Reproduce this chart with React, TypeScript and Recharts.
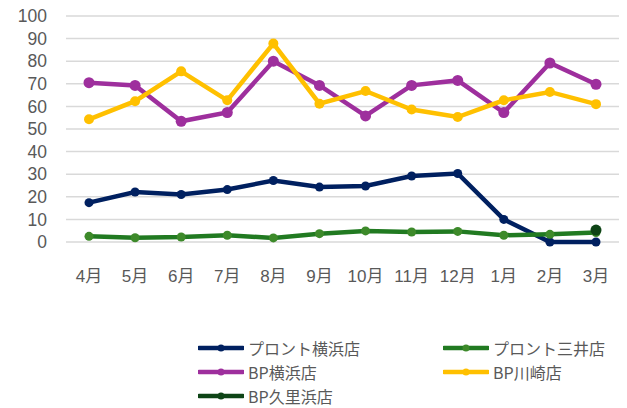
import React from 'react';
import { LineChart, Line, XAxis, YAxis, CartesianGrid } from 'recharts';

const months = ['4月', '5月', '6月', '7月', '8月', '9月', '10月', '11月', '12月', '1月', '2月', '3月'];
const yTicks = [0, 10, 20, 30, 40, 50, 60, 70, 80, 90, 100];

const pronteYokohama = [17.4, 22.1, 21, 23.2, 27.2, 24.3, 24.8, 29.2, 30.3, 10, 0, 0];
const pronteMitsui = [2.5, 1.9, 2.2, 3, 1.8, 3.7, 4.9, 4.4, 4.7, 3, 3.4, 4.2];
const bpYokohama = [70.5, 69.3, 53.4, 57.3, 80, 69.3, 55.8, 69.3, 71.5, 57.3, 79.2, 69.8];
const bpKawasaki = [54.3, 62.3, 75.5, 62.7, 87.8, 61.2, 66.8, 58.6, 55.3, 62.7, 66.4, 61];
const bpKurihama = [null, null, null, null, null, null, null, null, null, null, null, 5.3];

const series = [
  { key: 'py', name: 'プロント横浜店', values: pronteYokohama, color: '#002060', dot: '#002060', r: 4.5 },
  { key: 'pm', name: 'プロント三井店', values: pronteMitsui, color: '#217a21', dot: '#3d8a2a', r: 4.5 },
  { key: 'by', name: 'BP横浜店', values: bpYokohama, color: '#9e2f9d', dot: '#9e2f9d', r: 5.5 },
  { key: 'bk', name: 'BP川崎店', values: bpKawasaki, color: '#ffc000', dot: '#ffc000', r: 5 },
  { key: 'bq', name: 'BP久里浜店', values: bpKurihama, color: '#0e4416', dot: '#0e4416', r: 5.5 },
];

const data = months.map((m, i) => {
  const row: Record<string, any> = { month: m };
  series.forEach((s) => {
    row[s.key] = s.values[i];
  });
  return row;
});

const FONT = '"Noto Sans CJK JP", "Noto Sans", sans-serif';
const AXIS_FONT = '"Liberation Sans", "Noto Sans CJK JP", sans-serif';

const legendPos = [
  { left: 198, top: 337 },
  { left: 443, top: 337 },
  { left: 198, top: 361 },
  { left: 443, top: 361 },
  { left: 198, top: 385 },
];

export default function App() {
  return (
    <div style={{ position: 'absolute', left: 0, top: 0, width: 627, height: 408, background: '#fff', fontFamily: FONT }}>
      <LineChart width={627} height={408} data={data} margin={{ top: 16, right: 8, bottom: 0, left: 0 }}>
        <CartesianGrid vertical={false} stroke="#d9d9d9" strokeWidth={1.5} />
        <XAxis
          dataKey="month"
          scale="point"
          padding={{ left: 23, right: 23 }}
          axisLine={false}
          tickLine={false}
          height={166}
          tickMargin={22}
          interval={0}
          tick={{ fill: '#595959', fontSize: 17, fontFamily: AXIS_FONT }}
        />
        <YAxis
          domain={[0, 100]}
          ticks={yTicks}
          width={66}
          axisLine={false}
          tickLine={false}
          tickMargin={13}
          interval={0}
          tick={{ fill: '#595959', fontSize: 17.5, fontFamily: AXIS_FONT }}
        />
        {series.map((s) => (
          <Line
            key={s.key}
            dataKey={s.key}
            name={s.name}
            stroke={s.color}
            strokeWidth={4.5}
            dot={{ r: s.r, fill: s.dot, stroke: s.dot, strokeWidth: 0 }}
            activeDot={false}
            isAnimationActive={false}
            connectNulls={false}
          />
        ))}
      </LineChart>
      {series.map((s, i) => (
        <div
          key={s.key}
          style={{
            position: 'absolute',
            left: legendPos[i].left,
            top: legendPos[i].top,
            height: 22,
            display: 'flex',
            alignItems: 'center',
            fontSize: 16,
            color: '#595959',
            whiteSpace: 'nowrap',
          }}
        >
          <svg width={46} height={22} style={{ marginRight: 4 }}>
            <line x1={1} y1={11} x2={45} y2={11} stroke={s.color} strokeWidth={4.5} strokeLinecap="round" />
            <circle cx={23} cy={11} r={3.5} fill={s.dot} />
          </svg>
          <span>{s.name}</span>
        </div>
      ))}
    </div>
  );
}
